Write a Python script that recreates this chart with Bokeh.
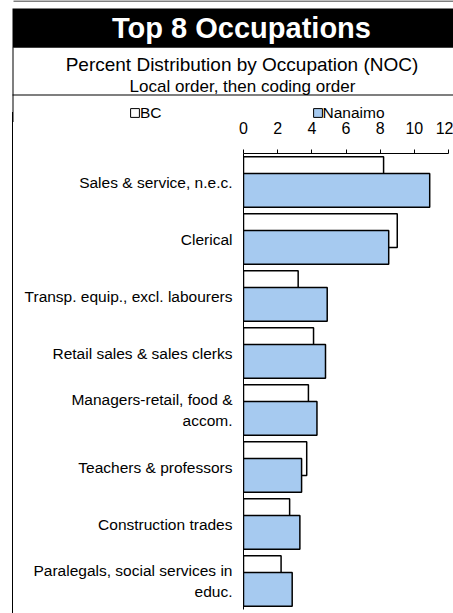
from bokeh.plotting import figure
from bokeh.models import (ColumnDataSource, FactorRange, Range1d, Label,
                          Legend, LegendItem, FixedTicker)
from bokeh.layouts import column, row
from bokeh.transform import dodge
from bokeh.embed import file_html
from bokeh.resources import INLINE

# ---------------- data ----------------
categories = [
    "Sales & service, n.e.c.",
    "Clerical",
    "Transp. equip., excl. labourers",
    "Retail sales & sales clerks",
    "Managers-retail, food &\naccom.",
    "Teachers & professors",
    "Construction trades",
    "Paralegals, social services in\neduc.",
]
bc_values = [8.2, 9.0, 3.2, 4.1, 3.8, 3.7, 2.7, 2.2]
nanaimo_values = [10.9, 8.5, 4.9, 4.8, 4.3, 3.4, 3.3, 2.85]
x_tick_values = [0, 2, 4, 6, 8, 10, 12]
series_names = ["BC", "Nanaimo"]
title_text = "Top 8 Occupations"
subtitle_text = "Percent Distribution by Occupation (NOC)"
subtitle2_text = "Local order, then coding order"

# ---------------- layout constants ----------------
FONT = "Liberation Sans"
BC_FILL, NAN_FILL = "white", "#a6caf0"
TOTAL_W, TOTAL_H = 453, 613
HEADER_H = 122
OVERLAP = 10                      # chart row slides up under the header's bottom strip
ROW_TOP = HEADER_H - OVERLAP
LEFT_GAP = 12
LINE_W = 1
MAIN_W = TOTAL_W - LEFT_GAP - LINE_W
MAIN_H = TOTAL_H - ROW_TOP
FRAME_W, FRAME_H = 205, 456
BORDER_L = 243 - LEFT_GAP - LINE_W
BORDER_T = 153 - ROW_TOP
BORDER_R = MAIN_W - BORDER_L - FRAME_W
BORDER_B = MAIN_H - BORDER_T - FRAME_H


def blank_fig(w, h, xr, yr):
    f = figure(width=w, height=h, x_range=xr, y_range=yr,
               x_axis_type=None, y_axis_type=None,
               min_border_left=0, min_border_right=0,
               min_border_top=0, min_border_bottom=0,
               output_backend="svg", toolbar_location=None, title=None)
    f.outline_line_color = None
    f.grid.visible = False
    f.background_fill_color = "white"
    f.border_fill_color = "white"
    return f


# ---------------- header (title block + legend) ----------------
header = blank_fig(TOTAL_W, HEADER_H, Range1d(0, TOTAL_W), Range1d(HEADER_H, 0))
header.segment(x0=13, y0=0.5, x1=TOTAL_W, y1=0.5, line_color="black", line_width=1)
header.quad(left=12, right=TOTAL_W, top=8, bottom=47.3, fill_color="black", line_color=None)
header.quad(left=12, right=13, top=47, bottom=HEADER_H, fill_color="black", line_color=None)
header.quad(left=12, right=TOTAL_W, top=94, bottom=95, fill_color="black", line_color=None)
header.add_layout(Label(x=241, y=27.5, text=title_text, text_align="center",
                        text_baseline="middle", text_font=FONT, text_font_size="29px",
                        text_font_style="bold", text_color="white"))
header.add_layout(Label(x=241.5, y=64.2, text=subtitle_text, text_align="center",
                        text_baseline="middle", text_font=FONT, text_font_size="19px",
                        text_color="black"))
header.add_layout(Label(x=242, y=85.8, text=subtitle2_text, text_align="center",
                        text_baseline="middle", text_font=FONT, text_font_size="17px",
                        text_color="black"))

# legend swatches: zero-size bars carrying the same styling as the chart's bars
sw_bc = header.hbar(y=[0], right=[0], left=0, height=0, fill_color=BC_FILL,
                    line_color="black", line_width=1)
sw_nan = header.hbar(y=[0], right=[0], left=0, height=0, fill_color=NAN_FILL,
                     line_color="black", line_width=1)
legend = Legend(
    items=[LegendItem(label=series_names[0], renderers=[sw_bc]),
           LegendItem(label=series_names[1], renderers=[sw_nan])],
    orientation="horizontal", location=(129, 0.5),
    glyph_width=11, glyph_height=11, label_standoff=0, spacing=150,
    padding=0, margin=0, border_line_color=None, background_fill_alpha=0,
    label_text_font=FONT, label_text_font_size="15.5px", label_height=14,
    label_text_color="black",
)
header.add_layout(legend)

# ---------------- main chart ----------------
source = ColumnDataSource(dict(cat=categories, bc=bc_values, nanaimo=nanaimo_values))

p = figure(
    y_range=FactorRange(factors=list(reversed(categories))),
    x_range=Range1d(0, 12),
    x_axis_location="above",
    frame_width=FRAME_W, frame_height=FRAME_H,
    min_border_left=BORDER_L, min_border_right=BORDER_R,
    min_border_top=BORDER_T, min_border_bottom=BORDER_B,
    output_backend="svg", toolbar_location=None, title=None,
)
p.outline_line_color = None
p.xgrid.visible = False
p.ygrid.visible = False
p.background_fill_color = "white"
p.border_fill_alpha = 0

p.hbar(y=dodge("cat", 0.146, range=p.y_range), right="bc", left=0, height=0.59,
       source=source, fill_color=BC_FILL, line_color="black", line_width=1.5)
p.hbar(y=dodge("cat", -0.146, range=p.y_range), right="nanaimo", left=0, height=0.59,
       source=source, fill_color=NAN_FILL, line_color="black", line_width=1.5)

xa = p.xaxis[0]
xa.ticker = FixedTicker(ticks=x_tick_values)
xa.major_tick_out = 4
xa.major_tick_in = 0
xa.minor_tick_out = 0
xa.minor_tick_in = 0
xa.axis_line_color = "black"
xa.major_tick_line_color = "black"
xa.major_label_standoff = 16
xa.major_label_text_font = FONT
xa.major_label_text_font_size = "16px"
xa.major_label_text_color = "black"

ya = p.yaxis[0]
ya.major_tick_out = 0
ya.major_tick_in = 0
ya.axis_line_color = "black"
ya.major_label_standoff = 11
ya.major_label_text_font = FONT
ya.major_label_text_font_size = "15.5px"
ya.major_label_text_color = "black"

chart_row = row(p, spacing=0,
                styles={"margin-top": f"-{OVERLAP}px",
                        "margin-left": f"{LEFT_GAP}px",
                        "border-left": f"{LINE_W}px solid black",
                        "position": "relative"})

layout = column(header, chart_row, spacing=0)

open("out.html", "w").write(file_html(layout, INLINE))
